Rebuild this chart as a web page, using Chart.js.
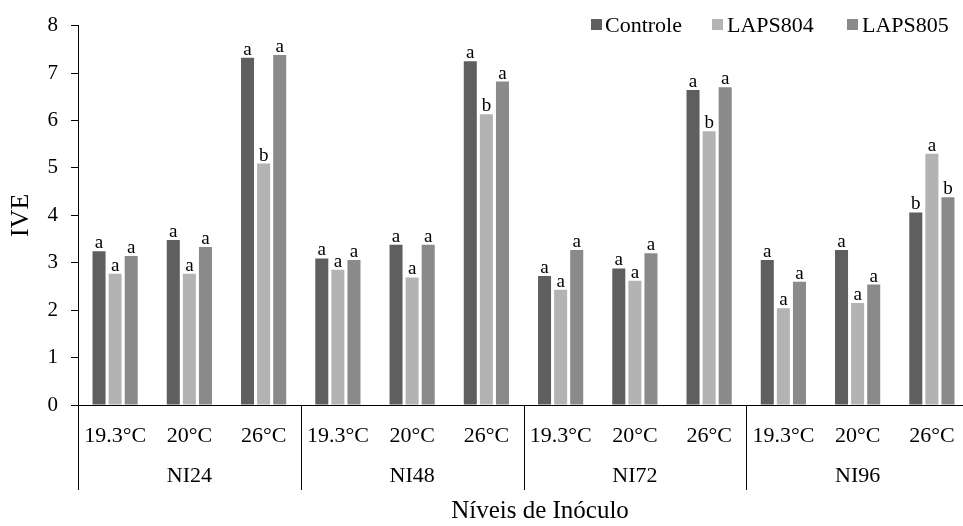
<!DOCTYPE html>
<html>
<head>
<meta charset="utf-8">
<script src="https://cdn.jsdelivr.net/npm/chart.js@4/dist/chart.umd.min.js"></script>
<style>
  html, body { margin: 0; padding: 0; background: #ffffff; overflow: hidden; }
  canvas { display: block; }
</style>
</head>
<body>
<canvas id="c" width="969" height="526"></canvas>
<script>
// Temperatures inside each inoculum level, and the inoculum levels themselves
const temperatures = ['19.3°C', '20°C', '26°C', '19.3°C', '20°C', '26°C', '19.3°C', '20°C', '26°C', '19.3°C', '20°C', '26°C'];
const inoculumLevels = ['NI24', 'NI48', 'NI72', 'NI96'];
const yTicks = [0, 1, 2, 3, 4, 5, 6, 7, 8];

// IVE per treatment
const controle = [3.24, 3.48, 7.32, 3.09, 3.38, 7.25, 2.72, 2.88, 6.64, 3.06, 3.27, 4.06];
const laps804  = [2.77, 2.77, 5.09, 2.85, 2.69, 6.13, 2.43, 2.62, 5.77, 2.04, 2.15, 5.30];
const laps805  = [3.14, 3.33, 7.38, 3.06, 3.38, 6.82, 3.27, 3.20, 6.70, 2.60, 2.54, 4.38];

// Significance letters written above each bar
const lettersControle = ['a', 'a', 'a', 'a', 'a', 'a', 'a', 'a', 'a', 'a', 'a', 'b'];
const letters804      = ['a', 'a', 'b', 'a', 'a', 'b', 'a', 'a', 'b', 'a', 'a', 'a'];
const letters805      = ['a', 'a', 'a', 'a', 'a', 'a', 'a', 'a', 'a', 'a', 'a', 'b'];

const seriesNames = ['Controle', 'LAPS804', 'LAPS805'];
const seriesColors = ['#5f5f5f', '#b3b3b3', '#8a8a8a'];

const SERIF = "'Liberation Serif', 'Times New Roman', serif";

const letterSets = [lettersControle, letters804, letters805];

// Letters over the bars, the legend, grouped axis row and axis title
const annotations = {
  id: 'annotations',
  afterDatasetsDraw(chart) {
    const ctx = chart.ctx;
    ctx.save();
    ctx.fillStyle = '#000';
    ctx.font = '19px ' + SERIF;
    ctx.textAlign = 'center';
    ctx.textBaseline = 'alphabetic';
    chart.data.datasets.forEach((ds, di) => {
      const meta = chart.getDatasetMeta(di);
      meta.data.forEach((bar, i) => {
        ctx.fillText(letterSets[di][i], bar.x, bar.y - 3);
      });
    });
    ctx.restore();
  },
  afterDraw(chart) {
    const ctx = chart.ctx;
    const x = chart.scales.x;
    const area = chart.chartArea;
    ctx.save();

    // legend
    const legendPos = [
      { box: 591, text: 605 },
      { box: 712, text: 727 },
      { box: 847, text: 862 }
    ];
    ctx.font = '22px ' + SERIF;
    ctx.textBaseline = 'middle';
    ctx.textAlign = 'left';
    seriesNames.forEach((name, i) => {
      ctx.fillStyle = seriesColors[i];
      ctx.fillRect(legendPos[i].box, 19, 11, 11);
      ctx.fillStyle = '#000';
      ctx.fillText(name, legendPos[i].text, 26);
    });

    // group separators and group labels
    const catW = x.getPixelForValue(1) - x.getPixelForValue(0);
    ctx.strokeStyle = '#000';
    ctx.lineWidth = 1;
    for (let g = 0; g <= inoculumLevels.length; g++) {
      const px = Math.round(x.getPixelForValue(g * 3) - catW / 2) + 0.5;
      ctx.beginPath();
      ctx.moveTo(px, area.bottom);
      ctx.lineTo(px, 490);
      ctx.stroke();
    }
    ctx.fillStyle = '#000';
    ctx.font = '22px ' + SERIF;
    ctx.textAlign = 'center';
    ctx.textBaseline = 'middle';
    inoculumLevels.forEach((lvl, g) => {
      const cx = x.getPixelForValue(g * 3 + 1);
      ctx.fillText(lvl, cx, 476);
    });

    // x axis title
    ctx.font = '25px ' + SERIF;
    ctx.fillText('Níveis de Inóculo', 540, 511);
    ctx.restore();
  }
};

new Chart(document.getElementById('c'), {
  type: 'bar',
  data: {
    labels: temperatures,
    datasets: [
      { label: seriesNames[0], data: controle, backgroundColor: seriesColors[0] },
      { label: seriesNames[1], data: laps804, backgroundColor: seriesColors[1] },
      { label: seriesNames[2], data: laps805, backgroundColor: seriesColors[2] }
    ]
  },
  options: {
    responsive: false,
    animation: false,
    devicePixelRatio: 1,
    layout: { padding: { top: 13, right: 0, bottom: 0, left: 0 } },
    datasets: {
      bar: { categoryPercentage: 0.65, barPercentage: 0.81 }
    },
    plugins: {
      legend: { display: false },
      tooltip: { enabled: false }
    },
    scales: {
      x: {
        afterFit(s) { s.height = 121; },
        grid: { display: false },
        border: { display: true, color: '#000', width: 1 },
        ticks: {
          autoSkip: false,
          maxRotation: 0,
          color: '#000',
          padding: 10,
          font: { family: SERIF, size: 22 }
        }
      },
      y: {
        min: 0,
        max: 8,
        afterFit(s) { s.width = 78; },
        afterBuildTicks(s) { s.ticks = yTicks.map(v => ({ value: v })); },
        grid: { display: true, drawOnChartArea: false, drawTicks: true, tickLength: 7, color: '#000' },
        border: { display: true, color: '#000', width: 1 },
        ticks: {
          color: '#000',
          padding: 13,
          font: { family: SERIF, size: 21 }
        },
        title: {
          display: true,
          text: 'IVE',
          color: '#000',
          padding: { top: 6, bottom: 0 },
          font: { family: SERIF, size: 26 }
        }
      }
    }
  },
  plugins: [annotations]
});
</script>
</body>
</html>
